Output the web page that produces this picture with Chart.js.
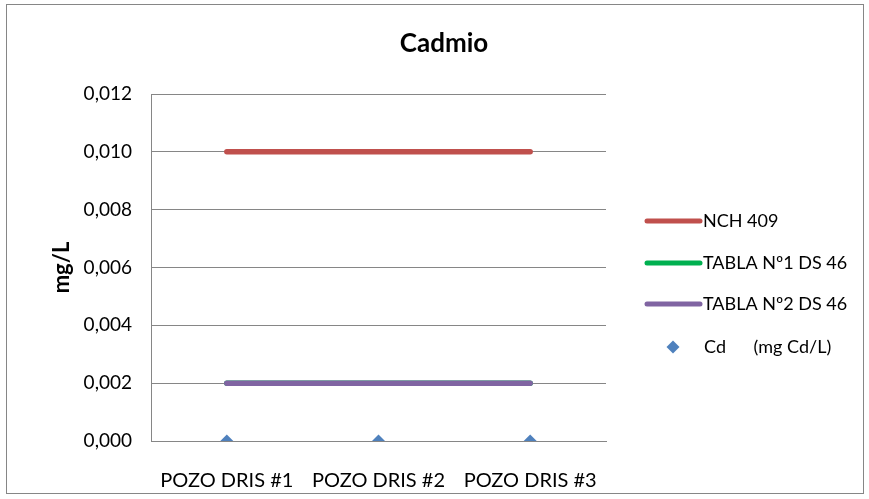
<!DOCTYPE html>
<html>
<head>
<meta charset="utf-8">
<script src="https://cdn.jsdelivr.net/npm/chart.js@4"></script>
<style>
  html, body { margin: 0; padding: 0; background: #fff; }
  #wrap { width: 869px; height: 499px; position: relative; }
</style>
</head>
<body>
<div id="wrap"><canvas id="myChart" width="869" height="499"></canvas></div>
<script>
// Datos del gráfico
const categorias = ['POZO DRIS #1', 'POZO DRIS #2', 'POZO DRIS #3'];
const nch409 = [0.010, 0.010, 0.010];
const tabla1DS46 = [0.002, 0.002, 0.002];
const tabla2DS46 = [0.002, 0.002, 0.002];
const cadmio = [0.000, 0.000, 0.000];
const yTicks = [0, 0.002, 0.004, 0.006, 0.008, 0.010, 0.012];

const fuente = 'Lato, "Liberation Sans", sans-serif';

// Borde, título y leyenda dibujados a mano
const decor = {
    id: 'decor',
    afterDraw(chart) {
        const ctx = chart.ctx;
        ctx.save();
        ctx.strokeStyle = '#868686';
        ctx.lineWidth = 1;
        ctx.strokeRect(6.5, 4.5, 857, 489);

        ctx.fillStyle = '#000';
        ctx.font = 'bold 26px ' + fuente;
        ctx.textAlign = 'center';
        ctx.textBaseline = 'middle';
        ctx.fillText('Cadmio', 444, 44);

        ctx.font = '18px ' + fuente;
        ctx.textAlign = 'left';
        const ys = [221, 263, 304, 347];
        chart.data.datasets.forEach((ds, i) => {
            const y = ys[i];
            if (ds.showLine === false) {
                ctx.fillStyle = ds.backgroundColor;
                ctx.beginPath();
                ctx.moveTo(673, y - 6.5);
                ctx.lineTo(679.5, y);
                ctx.lineTo(673, y + 6.5);
                ctx.lineTo(666.5, y);
                ctx.closePath();
                ctx.fill();
                ctx.fillStyle = '#000';
                ctx.fillText(ds.label, 704, y);
            } else {
                ctx.strokeStyle = ds.borderColor;
                ctx.lineWidth = 5;
                ctx.lineCap = 'round';
                ctx.beginPath();
                ctx.moveTo(647, y);
                ctx.lineTo(700, y);
                ctx.stroke();
                ctx.fillStyle = '#000';
                ctx.fillText(ds.label, 703, y);
            }
        });
        ctx.restore();
    }
};

const ctx = document.getElementById('myChart').getContext('2d');
new Chart(ctx, {
    type: 'line',
    data: {
        labels: categorias,
        datasets: [
            { label: 'NCH 409', data: nch409, borderColor: '#C0504D', backgroundColor: '#C0504D', borderWidth: 5.5, borderCapStyle: 'round', pointRadius: 0, order: 1 },
            { label: 'TABLA Nº1 DS 46', data: tabla1DS46, borderColor: '#00B050', backgroundColor: '#00B050', borderWidth: 5.5, borderCapStyle: 'round', pointRadius: 0, order: 3 },
            { label: 'TABLA Nº2 DS 46', data: tabla2DS46, borderColor: '#8064A2', backgroundColor: '#8064A2', borderWidth: 5.5, borderCapStyle: 'round', pointRadius: 0, order: 2 },
            { label: 'Cd      (mg Cd/L)', data: cadmio, showLine: false, borderColor: '#4F81BD', backgroundColor: '#4F81BD', pointStyle: 'rectRot', pointRadius: 6.5, pointBorderWidth: 0, order: 0 }
        ]
    },
    options: {
        responsive: false,
        animation: false,
        layout: { padding: { left: 0, top: 94, right: 263, bottom: 0 } },
        plugins: {
            legend: { display: false },
            title: { display: false },
            tooltip: { enabled: false }
        },
        scales: {
            x: {
                offset: true,
                grid: { display: false },
                border: { display: true, color: '#868686', width: 1 },
                ticks: { color: '#000', font: { family: fuente, size: 20 }, padding: 20, maxRotation: 0 },
                afterFit(scale) { scale.height = 58; }
            },
            y: {
                min: 0,
                max: 0.012,
                afterBuildTicks(scale) { scale.ticks = yTicks.map(v => ({ value: v })); },
                grid: { color: '#868686', drawTicks: false },
                border: { display: true, color: '#868686', width: 1 },
                ticks: {
                    color: '#000',
                    font: { family: fuente, size: 19 },
                    padding: 19,
                    callback: v => v.toFixed(3).replace('.', ',')
                },
                title: {
                    display: true,
                    text: 'mg/L',
                    color: '#000',
                    font: { family: fuente, size: 22, weight: 'bold' },
                    padding: { top: 49, bottom: 0 }
                },
                afterFit(scale) { scale.width = 151; }
            }
        }
    },
    plugins: [decor]
});
</script>
</body>
</html>
